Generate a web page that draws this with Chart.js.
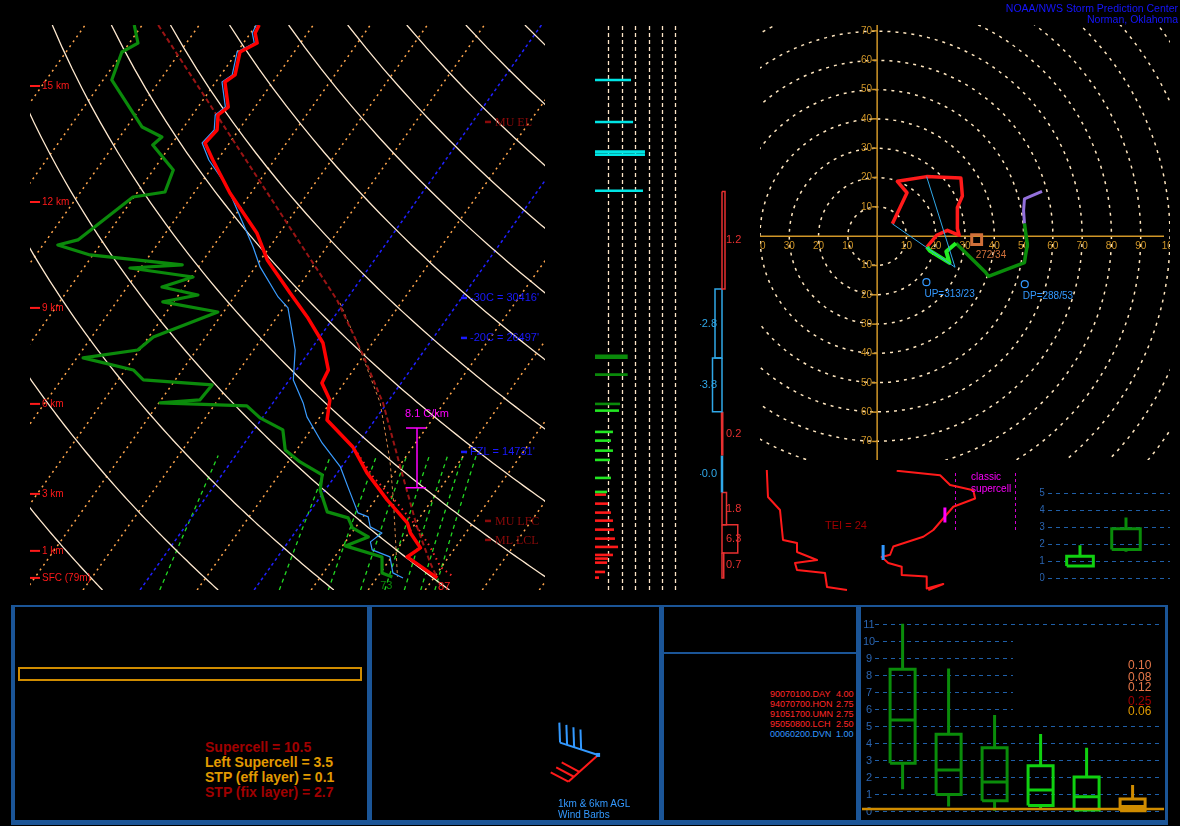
<!DOCTYPE html>
<html><head><meta charset="utf-8"><title>Sounding</title>
<script src="https://cdn.jsdelivr.net/npm/chart.js@4.4.1/dist/chart.umd.min.js"></script>
<style>
html,body{margin:0;padding:0;background:#000;}
body{width:1180px;height:826px;position:relative;overflow:hidden;font-family:Arial,"Liberation Sans",sans-serif;}
canvas{position:absolute;display:block;}
.fr{position:absolute;box-sizing:border-box;border-color:#1b5597;border-style:solid;}
.bar{position:absolute;background:#1b5597;}
.t{position:absolute;white-space:pre;line-height:1;}
</style></head><body>
<canvas id="skew" width="580" height="600" style="left:0;top:0"></canvas>
<canvas id="wind" width="120" height="600" style="left:580px;top:0"></canvas>
<canvas id="adv" width="60" height="600" style="left:700px;top:0"></canvas>
<canvas id="hodo" width="430" height="470" style="left:750px;top:0"></canvas>
<canvas id="thetae" width="125" height="135" style="left:750px;top:465px"></canvas>
<canvas id="srw" width="165" height="135" style="left:875px;top:465px"></canvas>
<canvas id="sbox" width="135" height="110" style="left:1040px;top:480px"></canvas>

<div class="fr" style="left:11px;top:605px;width:1157px;height:220px;border-width:2px 3px 5px 4px"></div>
<div class="bar" style="left:367px;top:605px;width:5px;height:220px"></div>
<div class="bar" style="left:659px;top:605px;width:5px;height:220px"></div>
<div class="bar" style="left:856px;top:605px;width:5px;height:220px"></div>
<div class="bar" style="left:664px;top:652px;width:192px;height:2px"></div>
<div style="position:absolute;left:18px;top:667px;width:344px;height:14px;box-sizing:border-box;border:2px solid #d08c00"></div>

<canvas id="barbs" width="286" height="214" style="left:373px;top:606px"></canvas>
<canvas id="bbox" width="308" height="216" style="left:860px;top:606px"></canvas>

<div class="t" style="right:2px;top:3px;text-align:right;color:#1515ff;font-size:10.5px;line-height:10.5px">NOAA/NWS Storm Prediction Center<br>Norman, Oklahoma</div>
<div id="idx" class="t" style="left:205px;top:740px;font-weight:bold;font-size:14px;line-height:15px"></div>
<div id="analogs" class="t" style="left:770px;top:689px;font-size:9px;line-height:10px"></div>
<div id="analogv" class="t" style="left:836px;top:689px;font-size:9px;line-height:10px"></div>
<div class="t" style="left:558px;top:799px;color:#3399ff;font-size:10px;line-height:10.5px">1km &amp; 6km AGL<br>Wind Barbs</div>
<div id="probs" class="t" style="left:1128px;top:660px;font-size:12px;line-height:10px"></div>

<script>
// ================= DATA =================
// Skew-T profiles: pressure (hPa) and temperature (°C)
const tempP=[100,103.4,107.8,111.9,123.1,126.8,140.7,145.4,154.8,163.4,175.4,201.2,237.6,265.9,305,337,375.6,420.2,443.6,476.1,517.4,579,645,721.7,794,828,881,915,998.5];
const tempT=[-69.5,-69.2,-67.6,-69.5,-67.5,-68.4,-64.7,-65.5,-63.8,-64.3,-60.8,-53.7,-44.0,-38.8,-30.7,-24.7,-18.7,-14.4,-13.9,-10.4,-8.4,-0.5,5.2,12.1,18.5,20.3,23.9,22.7,30.6];
const dewP=[100,107.8,111.9,125.7,152.9,159.4,164.8,182.8,200.4,204.6,244.6,249.8,260.4,271.4,274.9,285.4,297.5,307.6,316.6,330.1,366.3,386.7,399.7,420.2,438,447.3,476.1,482.1,488.1,513.1,539.4,586.1,616.2,650.4,692.3,758.6,777.8,810.9,841.8,873.9,915,977.9,994.3];
const dewT=[-91.4,-88.5,-90.2,-88.5,-77.3,-72.6,-73.2,-66.5,-65.2,-70.2,-74.5,-77.4,-70.5,-53.1,-61.9,-49.7,-53.9,-46.6,-51.9,-41.0,-49.2,-50.3,-58.9,-48.6,-45.6,-32.9,-33.2,-39.8,-24.2,-20.4,-14.9,-12.0,-7.9,-2.4,-0.9,3.1,7.5,9.5,13.4,10.5,18.3,20.3,22.6];
const wetP=[100,103.4,107.8,111.9,123.1,126.8,140.7,145.4,154.8,163.4,175.4,196.2,215.9,251.9,273.7,310.1,324.6,386.7,438,482.1,510.9,569.4,629.2,683.7,761.8,774.6,807.5,828,859.5,888.6,915,977.9,998.5];
const wetT=[-70.0,-69.7,-68.1,-70.0,-68.0,-68.9,-65.2,-66.0,-64.3,-64.8,-61.5,-54.9,-50.3,-42.9,-39.2,-32.3,-29.2,-22.7,-19.3,-14.7,-12.3,-6.4,-0.2,3.6,8.6,10.9,12.5,15.3,14.4,15.7,19.7,22.2,24.6];
const parcelP=[100,247.7,314,391.5,482.1,629.2,807.5,938,998.5];
const parcelT=[-87.2,-35.2,-21.6,-10.6,-0.7,10.3,20.7,27.5,30.6];
const dcapeP=[318,386.7,482.1,611,721.7,994.3];
const dcapeT=[-20.7,-11.3,-1.2,7.6,13.2,23.5];
const vparP=[593.5,655.9,730.8,807.5,877.7,953.9,994.3];
const vparT=[1.0,6.8,14.2,20.7,25.5,29.8,33.3];

// Skew-T annotations
const hgtLabels=['15 km','12 km','9 km','6 km','3 km','1 km','SFC (79m)'];
const hgtP=[128.9,208.9,324.6,484,703.9,892.2,998.5];
const lvlText=["MU EL","-30C = 30416'","-20C = 26497'","FZL = 14731'","MU LFC","ML LCL"];
const lvlP=[149.7,311.4,367.8,591.1,787.6,852.4];
const lvlKind=['p','t','t','t','p','p'];
const lapseRate=8.1, lapseTopP=535, lapseBotP=686;

// Wind speed vs height column (hPa, kt, height band)
const wsP=[125.7,149.7,169.4,171.5,199.3,397.6,428.5,484,497.7,543.8,563.9,587.9,611.1,658.6,698.1,706,733,760.9,786.7,816.7,847.9,877.7,907.4,921.3,937,974,997.3];
const wsKt=[26.9,28.4,37.3,37.3,35.8,24.4,24.4,18.7,17.9,13.4,11.9,13.4,11.2,11.9,9.0,8.2,9.7,11.9,13.4,14.2,14.9,17.2,13.4,9.7,9.0,7.5,3.0];
const wsBand=['c','c','c','c','c','d','d','d','g','g','g','g','g','g','g','r','r','r','r','r','r','r','r','r','r','r','r'];

// Inferred temperature advection (layer top/bottom hPa, °C/hr)
const advTop=[200,300,400,500,600,700,800,900];
const advBot=[300,400,500,600,700,800,900,998.5];
const advVal=[1.2,-2.8,-3.8,0.2,-0.0,1.8,6.3,0.7];
const advLabel=['1.2','-2.8','-3.8','0.2','-0.0','1.8','6.3','0.7'];

// Hodograph (u, v in kt)
const hodoRedU=[5.2,10.2,6.9,16.9,22.4,28.6,29.1,27.4,27.4,28,24,20.3,17];
const hodoRedV=[4.2,14.8,18.7,20.3,20.1,19.8,13.7,9.8,2.6,0.3,2,0.3,-3.7];
const hodoGrnU=[17,18,24.7,23.6,26.9];
const hodoGrnV=[-3.7,-5,-9.1,-5.2,-2.4];
const hodoDgrU=[26.9,37,38,50.3,50.7,51.3,50.3];
const hodoDgrV=[-2.4,-12.3,-13.7,-9,-6.3,-3,4.3];
const hodoPurU=[50.3,50,50.3,56.3];
const hodoPurV=[4.3,8.7,12.7,15.3];
const srLineU=[5.2,26.6,16.9];
const srLineV=[4.2,-10.6,20.3];
const meanWind={dir:272,spd:34};
const upMotion={dir:313,spd:23};
const dnMotion={dir:288,spd:53};

// Theta-e vs pressure (K, hPa)
const thetaE=[315.9,316.5,322.5,324,331,331,341,330,331,345,346,356];
const thetaEP=[500,612.5,666.7,791.7,804.2,841.7,875,887.5,916.7,929.2,987.5,1000];
const tei=24;
// Storm-relative wind vs height (kt, km)
const srSpd=[10.6,32.3,37.3,48.9,49.8,38.9,28.9,23.9,8.9,7.3,3.1,6.4,13.1,13.1,25.6,25.6,33.9,26.4];
const srHgt=[15.9,15.3,14,13.3,12.2,11.1,8,7.1,5.8,4.7,4.4,3.6,3.1,2,1.8,0.2,0.8,0];
const srMeanLow={spd:3.8,bot:4,top:6};
const srMeanHigh={spd:34.7,bot:9,top:11};
const classicLo=40, classicHi=70;

// Small box plot
const sbQ1=[0.72,1.69], sbQ3=[1.29,2.92], sbHi=[1.94,3.57], sbLo=[0.72,1.56];

// Bottom STP box plot
const boxCats=['EF4+','EF3','EF2','EF1','EF0','NONTOR'];
const boxLo=[1.26,0.24,0.0,0.04,0.0,0.0];
const boxQ1=[2.79,0.96,0.59,0.3,0.04,0.0];
const boxMed=[5.34,2.39,1.69,1.22,0.82,0.25];
const boxQ3=[8.32,4.49,3.71,2.65,1.98,0.69];
const boxHi=[11.0,8.37,5.63,4.51,3.71,1.51];
const stpProbs=['0.10','0.08','0.12','0.25','0.06'];
const stpProbColor=['#e8784a','#e8784a','#e8784a','#a00000','#e09a00'];

// Indices
const scp=10.5, lscp=3.5, stpEff=0.1, stpFix=2.7;
// Analogs
const analogDates=['90070100.DAY','94070700.HON','91051700.UMN','95050800.LCH','00060200.DVN'];
const analogVals=[4.00,2.75,2.75,2.50,1.00];
const analogTor=[true,true,true,true,false];
// Wind barbs 1 km and 6 km (deg, kt)
const barbDir=[228,288], barbSpd=[30,40];

// ================= HELPERS =================
Chart.defaults.font.family='Arial, "Liberation Sans", sans-serif';
const SKEW=29.93;
const sk=(T,p)=>T+SKEW*Math.log(1050/p);
const prof=(P,T)=>P.map((p,i)=>({x:sk(T[i],p),y:p}));
const uv=(P)=>({x:-P.spd*Math.sin(P.dir*Math.PI/180),y:-P.spd*Math.cos(P.dir*Math.PI/180)});
const zip=(U,V)=>U.map((u,i)=>({x:u,y:V[i]}));
const line=(data,color,width,dash,extra)=>Object.assign({data,showLine:true,borderColor:color,backgroundColor:color,borderWidth:width,borderDash:dash||[],pointRadius:0,fill:false,tension:0,borderJoinStyle:'round'},extra||{});
const opts=(pad,scales)=>({responsive:false,animation:false,events:[],layout:{padding:pad},plugins:{legend:{display:false},tooltip:{enabled:false}},scales});
const clipArea=(ctx,a)=>{ctx.beginPath();ctx.rect(a.left,a.top,a.right-a.left,a.bottom-a.top);ctx.clip();};
const mixRatios=[1,5,9,13,17,21,25,29];
const dryAdiabats=[-30,-10,10,30,50,70,90,110,130,150,170,190,210,230,250];
const isoHighlight=[0,-20];
const HODO_AXIS='#d09628';

// ================= SKEW-T =================
const skewGrid={id:'skewGrid',beforeDatasetsDraw(chart){
  const {ctx,chartArea:a,scales:{x,y}}=chart;
  ctx.save();clipArea(ctx,a);
  ctx.lineWidth=1.3;ctx.strokeStyle='#22d822';ctx.setLineDash([4,4]);
  for(const w of mixRatios){ctx.beginPath();
    for(let p=1050;p>=600;p-=25){const e=w*p/(622+w),l=Math.log(e/6.112),Td=243.5*l/(17.67-l);
      const px=x.getPixelForValue(sk(Td,p)),py=y.getPixelForValue(p);
      if(p===1050)ctx.moveTo(px,py);else ctx.lineTo(px,py);}
    ctx.stroke();}
  for(let T=-110;T<=50;T+=10){const hi=isoHighlight.includes(T);
    ctx.strokeStyle=hi?'#2020ff':'#ffa64d';ctx.setLineDash(hi?[3,3]:[2,4]);ctx.lineWidth=1.5;
    ctx.beginPath();ctx.moveTo(x.getPixelForValue(sk(T,1050)),y.getPixelForValue(1050));
    ctx.lineTo(x.getPixelForValue(sk(T,100)),y.getPixelForValue(100));ctx.stroke();}
  ctx.setLineDash([]);ctx.strokeStyle='#ffe9cf';ctx.lineWidth=1.3;
  for(const th of dryAdiabats){ctx.beginPath();
    for(let p=1050;p>=100;p-=10){const T=(th+273.15)*Math.pow(p/1000,0.2857)-273.15;
      const px=x.getPixelForValue(sk(T,p)),py=y.getPixelForValue(p);
      if(p===1050)ctx.moveTo(px,py);else ctx.lineTo(px,py);}
    ctx.stroke();}
  ctx.restore();
}};
const skewLabels={id:'skewLabels',afterDatasetsDraw(chart){
  const {ctx,chartArea:a,scales:{x,y}}=chart;
  ctx.save();ctx.textBaseline='middle';ctx.textAlign='left';
  ctx.font='10px Arial';
  hgtLabels.forEach((s,i)=>{const py=y.getPixelForValue(hgtP[i]);
    ctx.strokeStyle='#ff1a1a';ctx.lineWidth=2;ctx.beginPath();ctx.moveTo(a.left,py);ctx.lineTo(a.left+10,py);ctx.stroke();
    ctx.fillStyle='#ff1a1a';ctx.fillText(s,a.left+12,py+0.5);});
  lvlText.forEach((s,i)=>{const py=y.getPixelForValue(lvlP[i]);const t=lvlKind[i]==='t';
    const x0=t?a.right-84:a.right-60;const col=t?'#1a1aff':'#8b0a0a';
    ctx.strokeStyle=col;ctx.lineWidth=2.5;ctx.beginPath();ctx.moveTo(x0,py);ctx.lineTo(x0+6,py);ctx.stroke();
    ctx.fillStyle=col;ctx.font=t?'11px Arial':'12px "Liberation Serif","Times New Roman",serif';
    ctx.fillText(s,x0+(t?9:10),py+0.5);});
  // lapse-rate bar
  const lx=a.left+387,ty=y.getPixelForValue(lapseTopP),by=y.getPixelForValue(lapseBotP);
  ctx.strokeStyle='#ff00ff';ctx.lineWidth=1.5;ctx.beginPath();
  ctx.moveTo(lx,ty);ctx.lineTo(lx,by);ctx.moveTo(lx-11,ty);ctx.lineTo(lx+9,ty);ctx.moveTo(lx-11,by);ctx.lineTo(lx+9,by);ctx.stroke();
  ctx.fillStyle='#ff00ff';ctx.font='11px Arial';ctx.fillText(lapseRate.toFixed(1)+' C/km',lx-12,ty-14);
  // surface T / Td in F
  const n=tempT.length-1,m=dewT.length-1;
  ctx.textAlign='center';ctx.font='11px Arial';
  ctx.fillStyle='#ff2020';ctx.fillText(String(Math.round(tempT[n]*9/5+32)),x.getPixelForValue(sk(tempT[n],tempP[n]))+7,y.getPixelForValue(tempP[n])+9);
  ctx.fillStyle='#0a8c0a';ctx.fillText(String(Math.round(dewT[m]*9/5+32)),x.getPixelForValue(sk(dewT[m],dewP[m]))-6,y.getPixelForValue(dewP[m])+9);
  ctx.restore();
}};
new Chart(document.getElementById('skew'),{type:'scatter',
  data:{datasets:[
    line(prof(tempP,tempT),'#ff0000',3.5),
    line(prof(dewP,dewT),'#0b8a0b',3.2),
    line(prof(wetP,wetT),'#3a9cff',1.2),
    line(prof(vparP,vparT),'#ff2a2a',2,[1.5,4]),
    line(prof(parcelP,parcelT),'#9a1414',2,[5,3]),
    line(prof(dcapeP,dcapeT),'#d8874a',1,[3,3])
  ]},
  options:opts({left:30,top:25,right:35,bottom:10},{x:{type:'linear',display:false,min:-39.3,max:51.0},y:{type:'logarithmic',display:false,reverse:true,min:100,max:1050}}),
  plugins:[skewGrid,skewLabels]});

// ================= WIND SPEED COLUMN =================
const bandColor={c:'#00e5e5',d:'#0a8a0a',g:'#22e622',r:'#ff1a1a'};
const windGrid={id:'windGrid',beforeDatasetsDraw(chart){
  const {ctx,scales:{x,y}}=chart;ctx.save();ctx.strokeStyle='#ffe6c8';ctx.lineWidth=1.3;ctx.setLineDash([4,3]);
  for(let k=10;k<=60;k+=10){const px=Math.round(x.getPixelForValue(k))+0.5;ctx.beginPath();ctx.moveTo(px,y.getPixelForValue(100)+1);ctx.lineTo(px,y.getPixelForValue(1050));ctx.stroke();}
  ctx.restore();}};
new Chart(document.getElementById('wind'),{type:'scatter',
  data:{datasets:wsP.map((p,i)=>line([{x:0,y:p},{x:wsKt[i],y:p}],bandColor[wsBand[i]],i===5?4.5:2.6,[],{borderCapStyle:'butt',clip:false}))},
  options:opts({left:15,top:25,right:5,bottom:10},{x:{type:'linear',display:false,min:0,max:74.63},y:{type:'logarithmic',display:false,reverse:true,min:100,max:1050}}),
  plugins:[windGrid]});

// ================= TEMPERATURE ADVECTION =================
const advLabels={id:'advLabels',afterDatasetsDraw(chart){
  const {ctx,scales:{x,y}}=chart;ctx.save();ctx.font='11px Arial';ctx.textBaseline='middle';
  const x0=x.getPixelForValue(0);
  advVal.forEach((v,i)=>{const neg=advLabel[i].startsWith('-');const py=y.getPixelForValue(Math.sqrt(advTop[i]*advBot[i]));
    ctx.fillStyle=neg?'#30a8e8':'#e83030';ctx.textAlign=neg?'right':'left';ctx.fillText(advLabel[i],neg?x0-5:x0+4,py);});
  ctx.restore();}};
new Chart(document.getElementById('adv'),{type:'scatter',
  data:{datasets:advVal.map((v,i)=>{const neg=advLabel[i].startsWith('-');const w=Math.abs(v)<0.5?2.5:1.5;
    return line([{x:0,y:advTop[i]},{x:v,y:advTop[i]},{x:v,y:advBot[i]},{x:0,y:advBot[i]},{x:0,y:advTop[i]}],neg?'#30a8e8':'#e83030',w,[],{clip:false,borderJoinStyle:'miter'});})},
  options:opts({left:2,top:25,right:8,bottom:10},{x:{type:'linear',display:false,min:-8,max:12},y:{type:'logarithmic',display:false,reverse:true,min:100,max:1050}}),
  plugins:[advLabels]});

// ================= HODOGRAPH =================
const hodoGrid={id:'hodoGrid',beforeDatasetsDraw(chart){
  const {ctx,chartArea:a,scales:{x,y}}=chart;
  const cx=x.getPixelForValue(0),cy=y.getPixelForValue(0),k=x.getPixelForValue(10)-cx;
  ctx.save();clipArea(ctx,a);
  ctx.strokeStyle='#ffe6bf';ctx.lineWidth=1.5;ctx.setLineDash([3,5]);
  for(let r=10;r<=150;r+=10){ctx.beginPath();ctx.arc(cx,cy,r/10*k,0,Math.PI*2);ctx.stroke();}
  ctx.setLineDash([]);ctx.strokeStyle=HODO_AXIS;ctx.lineWidth=1.5;
  ctx.beginPath();ctx.moveTo(a.left,cy);ctx.lineTo(a.right-6,cy);ctx.moveTo(cx,a.top);ctx.lineTo(cx,a.bottom);ctx.stroke();
  ctx.fillStyle=HODO_AXIS;ctx.font='10px Arial';ctx.textAlign='center';ctx.textBaseline='middle';
  for(let u=-40;u<=100;u+=10){if(u===0)continue;ctx.fillText(String(Math.abs(u)),x.getPixelForValue(u),cy+10);}
  ctx.textAlign='right';
  for(let v=-70;v<=70;v+=10){if(v===0)continue;const py=y.getPixelForValue(v);ctx.fillText(String(Math.abs(v)),cx-5,py);
    ctx.beginPath();ctx.moveTo(cx-5,py);ctx.lineTo(cx,py);ctx.stroke();}
  ctx.restore();}};
const hodoLabels={id:'hodoLabels',afterDatasetsDraw(chart){
  const {ctx,scales:{x,y}}=chart;ctx.save();ctx.font='10px Arial';ctx.textBaseline='middle';ctx.textAlign='left';
  const m=uv(meanWind);ctx.fillStyle='#d0703a';ctx.fillText(meanWind.dir+'/'+meanWind.spd,x.getPixelForValue(m.x)-1,y.getPixelForValue(m.y)+16);
  ctx.fillStyle='#3399ff';
  const up=uv(upMotion),dn=uv(dnMotion);
  ctx.fillText('UP='+upMotion.dir+'/'+upMotion.spd,x.getPixelForValue(up.x)-2,y.getPixelForValue(up.y)+12);
  ctx.fillText('DP='+dnMotion.dir+'/'+dnMotion.spd,x.getPixelForValue(dn.x)-2,y.getPixelForValue(dn.y)+12);
  ctx.restore();}};
new Chart(document.getElementById('hodo'),{type:'scatter',
  data:{datasets:[
    line([uv(meanWind)],'#d0703a',3,[],{showLine:false,pointStyle:'rect',pointRadius:7,pointBorderWidth:3,pointBackgroundColor:'rgba(0,0,0,0)',pointBorderColor:'#d0703a'}),
    line([uv(upMotion)],'#3399ff',1,[],{showLine:false,pointStyle:'circle',pointRadius:3.5,pointBorderWidth:1.2,pointBackgroundColor:'rgba(0,0,0,0)',pointBorderColor:'#3399ff'}),
    line([uv(dnMotion)],'#3399ff',1,[],{showLine:false,pointStyle:'circle',pointRadius:3.5,pointBorderWidth:1.2,pointBackgroundColor:'rgba(0,0,0,0)',pointBorderColor:'#3399ff'}),
    line(zip(srLineU,srLineV),'#30a8e8',1),
    line(zip(hodoGrnU,hodoGrnV),'#22ee22',4),
    line(zip(hodoRedU,hodoRedV),'#ff1a1a',3.5),
    line(zip(hodoDgrU,hodoDgrV),'#0a8c0a',3.5),
    line(zip(hodoPurU,hodoPurV),'#9370db',3)
  ]},
  options:opts({left:6,top:25,right:4,bottom:0},{x:{type:'linear',display:false,min:-40,max:100},y:{type:'linear',display:false,min:-76.33,max:72}}),
  plugins:[hodoGrid,hodoLabels]});

// ================= THETA-E INSET =================
const teiLabel={id:'teiLabel',afterDatasetsDraw(chart){const {ctx,scales:{x,y}}=chart;ctx.save();ctx.font='11px Arial';ctx.fillStyle='#a00000';ctx.textBaseline='middle';
  ctx.fillText('TEI = '+tei,x.getPixelForValue(345),y.getPixelForValue(733));ctx.restore();}};
new Chart(document.getElementById('thetae'),{type:'scatter',
  data:{datasets:[line(zip(thetaE,thetaEP),'#ff1a1a',2)]},
  options:opts({left:0,top:5,right:0,bottom:5},{x:{type:'linear',display:false,min:307.5,max:370},y:{type:'linear',display:false,reverse:true,min:500,max:1020.8}}),
  plugins:[teiLabel]});

// ================= SR WIND INSET =================
const srLabel={id:'srLabel',afterDatasetsDraw(chart){const {ctx,scales:{x,y}}=chart;ctx.save();ctx.font='10px Arial';ctx.fillStyle='#ff00ff';ctx.textBaseline='middle';
  ctx.fillText('classic',x.getPixelForValue(47.8),y.getPixelForValue(15.0));ctx.fillText('supercell',x.getPixelForValue(47.8),y.getPixelForValue(13.4));ctx.restore();}};
new Chart(document.getElementById('srw'),{type:'scatter',
  data:{datasets:[
    line([{x:srMeanLow.spd,y:srMeanLow.bot},{x:srMeanLow.spd,y:srMeanLow.top}],'#3399ff',3),
    line([{x:srMeanHigh.spd,y:srMeanHigh.bot},{x:srMeanHigh.spd,y:srMeanHigh.top}],'#ff00ff',3),
    line(zip(srSpd,srHgt),'#ff1a1a',2),
    line([{x:classicLo,y:8},{x:classicLo,y:16}],'#d000d0',1,[3,3]),
    line([{x:classicHi,y:8},{x:classicHi,y:16}],'#d000d0',1,[3,3])
  ]},
  options:opts({left:0,top:5,right:0,bottom:5},{x:{type:'linear',display:false,min:-0.25,max:82.25},y:{type:'linear',display:false,min:-0.667,max:16}}),
  plugins:[srLabel]});

// ================= BOX PLOT HELPERS =================
function boxSets(i,lo,q1,med,q3,hi,hw,color,lw){
  const s=[line([{x:i-hw,y:q1},{x:i+hw,y:q1},{x:i+hw,y:q3},{x:i-hw,y:q3},{x:i-hw,y:q1}],color,lw,[],{borderJoinStyle:'miter'}),
           line([{x:i,y:q3},{x:i,y:hi}],color,lw)];
  if(lo<q1)s.push(line([{x:i,y:lo},{x:i,y:q1}],color,lw));
  if(med!=null)s.push(line([{x:i-hw,y:med},{x:i+hw,y:med}],color,lw));
  return s;}
function gridPlugin(id,maxV,shortFrom,shortTo,labelColor,font){return {id,beforeDatasetsDraw(chart){
  const {ctx,chartArea:a,scales:{x,y}}=chart;ctx.save();ctx.strokeStyle='#1f5fa8';ctx.lineWidth=1;ctx.setLineDash([4,4]);
  ctx.fillStyle=labelColor;ctx.font=font;ctx.textAlign='center';ctx.textBaseline='middle';
  for(let v=0;v<=maxV;v++){const py=Math.round(y.getPixelForValue(v))+0.5;const xe=(v>=shortFrom&&v<=shortTo)?x.getPixelForValue(2.4):a.right;
    ctx.beginPath();ctx.moveTo(a.left,py);ctx.lineTo(xe,py);ctx.stroke();ctx.fillText(String(v),a.left-6,py);}
  ctx.restore();}};}

// small box plot
new Chart(document.getElementById('sbox'),{type:'scatter',
  data:{datasets:[...boxSets(0,sbLo[0],sbQ1[0],null,sbQ3[0],sbHi[0],0.29,'#10d010',3),...boxSets(1,sbLo[1],sbQ1[1],null,sbQ3[1],sbHi[1],0.31,'#0a8c0a',3)]},
  options:opts({left:8,top:4.8,right:5,bottom:6.6},{x:{type:'linear',display:false,min:-0.696,max:1.957},y:{type:'linear',display:false,min:-0.3,max:5.5}}),
  plugins:[gridPlugin('sgrid',5,99,99,'#2a64b0','10px Arial')]});

// big STP box plot
const stpLine={id:'stpLine',afterDatasetsDraw(chart){const {ctx,chartArea:a,scales:{y}}=chart;ctx.save();ctx.strokeStyle='#d08c00';ctx.lineWidth=2.5;
  const py=y.getPixelForValue(stpEff);ctx.beginPath();ctx.moveTo(a.left-13,py);ctx.lineTo(a.right+1,py);ctx.stroke();ctx.restore();}};
const boxColors=['#0a8c0a','#0a8c0a','#0a8c0a','#10d010','#10d010','#d08c00'];
let bds=[];boxCats.forEach((c,i)=>{bds=bds.concat(boxSets(i,boxLo[i],boxQ1[i],boxMed[i],boxQ3[i],boxHi[i],0.272,boxColors[i],3));});
new Chart(document.getElementById('bbox'),{type:'scatter',
  data:{datasets:bds},
  options:opts({left:15,top:9.2,right:5,bottom:2.8},{x:{type:'linear',display:false,min:-0.6,max:5.661},y:{type:'linear',display:false,min:-0.5,max:11.5}}),
  plugins:[gridPlugin('bgrid',11,6,10,'#2a64b0','11px Arial'),stpLine]});

// ================= WIND BARBS =================
function drawBarb(ctx,ox,oy,dir,spd,color){
  const L=40,B=20,S=7.4,rot=70*Math.PI/180,a=dir*Math.PI/180,ux=Math.sin(a),uy=-Math.cos(a);
  ctx.save();ctx.strokeStyle=color;ctx.lineWidth=2;ctx.beginPath();ctx.moveTo(ox,oy);ctx.lineTo(ox+ux*L,oy+uy*L);ctx.stroke();
  const ang=Math.atan2(uy,ux)+rot,bx=Math.cos(ang),by=Math.sin(ang);
  let s=Math.round(spd/5)*5,pos=L;
  while(s>=10){const px=ox+ux*pos,py=oy+uy*pos;ctx.beginPath();ctx.moveTo(px,py);ctx.lineTo(px+bx*B,py+by*B);ctx.stroke();s-=10;pos-=S;}
  if(s>=5){const px=ox+ux*pos,py=oy+uy*pos;ctx.beginPath();ctx.moveTo(px,py);ctx.lineTo(px+bx*B/2,py+by*B/2);ctx.stroke();}
  ctx.restore();}
const barbPlugin={id:'barbPlugin',afterDraw(chart){const {ctx,chartArea:a}=chart;
  const ox=a.left+(a.right-a.left)*0.787,oy=a.top+(a.bottom-a.top)*0.696;
  drawBarb(ctx,ox,oy,barbDir[0],barbSpd[0],'#ff1a1a');
  drawBarb(ctx,ox,oy,barbDir[1],barbSpd[1],'#3399ff');
  ctx.fillStyle='#3399ff';ctx.fillRect(ox-2,oy-2,4,4);}};
new Chart(document.getElementById('barbs'),{type:'scatter',data:{datasets:[]},
  options:opts({left:0,top:0,right:0,bottom:0},{x:{type:'linear',display:false,min:0,max:1},y:{type:'linear',display:false,min:0,max:1}}),
  plugins:[barbPlugin]});

// ================= TEXT PANELS =================
const idx=document.getElementById('idx');
[['Supercell = '+scp.toFixed(1),'#a00000'],['Left Supercell = '+lscp.toFixed(1),'#e09a00'],['STP (eff layer) = '+stpEff.toFixed(1),'#e09a00'],['STP (fix layer) = '+stpFix.toFixed(1),'#a00000']]
  .forEach(([s,c])=>{const d=document.createElement('div');d.textContent=s;d.style.color=c;idx.appendChild(d);});
const an=document.getElementById('analogs'),av=document.getElementById('analogv');
analogDates.forEach((d,i)=>{const col=analogTor[i]?'#ff2828':'#3399ff';
  const r=document.createElement('div');r.style.color=col;r.textContent=d;an.appendChild(r);
  const v=document.createElement('div');v.style.color=col;v.textContent=analogVals[i].toFixed(2);av.appendChild(v);});
const pr=document.getElementById('probs');
const gaps=[0,2,0,4,0];
stpProbs.forEach((s,i)=>{const d=document.createElement('div');d.textContent=s;d.style.color=stpProbColor[i];d.style.marginTop=gaps[i]+'px';d.style.height='10px';pr.appendChild(d);});
</script>
</body></html>
